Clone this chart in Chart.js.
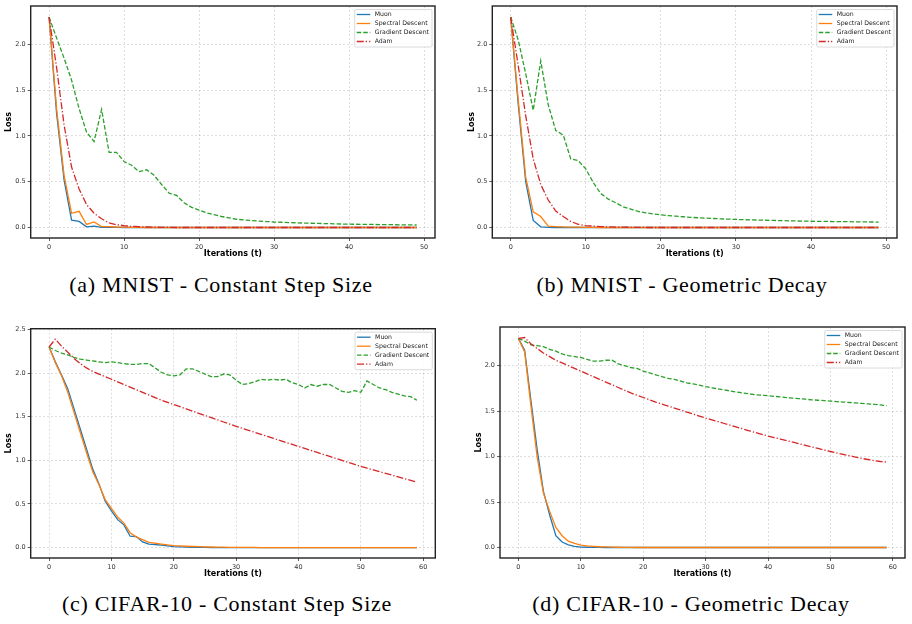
<!DOCTYPE html>
<html>
<head>
<meta charset="utf-8">
<script src="https://cdn.jsdelivr.net/npm/chart.js@4.4.0/dist/chart.umd.min.js"></script>
<style>
html, body { margin: 0; padding: 0; background: #fff; }
body { width: 912px; height: 624px; position: relative; overflow: hidden; }
canvas { position: absolute; }
.cap { position: absolute; font-family: "Liberation Serif", serif; font-size: 22px; line-height: 22px;
       letter-spacing: 0.7px; white-space: nowrap; transform: translateX(-50%); color: #000; }
</style>
</head>
<body>
<canvas id="chartA" width="445" height="265" style="left:0px;top:0px"></canvas>
<canvas id="chartB" width="449" height="265" style="left:463px;top:0px"></canvas>
<canvas id="chartC" width="445" height="267" style="left:0px;top:318px"></canvas>
<canvas id="chartD" width="442" height="267" style="left:470px;top:318px"></canvas>
<div class="cap" style="left:221px;top:274px">(a) MNIST - Constant Step Size</div>
<div class="cap" style="left:682px;top:274px">(b) MNIST - Geometric Decay</div>
<div class="cap" style="left:227px;top:593px">(c) CIFAR-10 - Constant Step Size</div>
<div class="cap" style="left:691px;top:593px">(d) CIFAR-10 - Geometric Decay</div>
<script>
// series names
const seriesNames = ["Muon", "Spectral Descent", "Gradient Descent", "Adam"];

// tick labels
const xTicksMnist = [0, 10, 20, 30, 40, 50];
const xTicksCifar = [0, 10, 20, 30, 40, 50, 60];
const yTicksMnist = [0, 0.5, 1.0, 1.5, 2.0];
const yTicksCifar = [0, 0.5, 1.0, 1.5, 2.0, 2.5];

// iterations
const itersMnist = Array.from({length: 50}, (_, i) => i);
const itersCifar = Array.from({length: 60}, (_, i) => i);

// (a) MNIST - constant step
const muonA = [2.30,1.25,0.52,0.08,0.066,0.007,0.015,0.002,0.001,0.001,
  0,0,0,0,0,0,0,0,0,0, 0,0,0,0,0,0,0,0,0,0, 0,0,0,0,0,0,0,0,0,0, 0,0,0,0,0,0,0,0,0,0];
const spectralA = [2.30,1.30,0.57,0.155,0.176,0.033,0.06,0.01,0.01,0.005,
  0.003,0.002,0.001,0,0,0,0,0,0,0, 0,0,0,0,0,0,0,0,0,0, 0,0,0,0,0,0,0,0,0,0, 0,0,0,0,0,0,0,0,0,0];
const gdA = [2.30,2.07,1.85,1.61,1.30,1.04,0.94,1.29,0.82,0.82,
  0.72,0.68,0.61,0.63,0.57,0.47,0.375,0.35,0.27,0.22,
  0.19,0.16,0.14,0.12,0.105,0.09,0.082,0.076,0.07,0.065,
  0.06,0.057,0.054,0.051,0.048,0.046,0.044,0.042,0.04,0.038,
  0.036,0.035,0.034,0.033,0.032,0.031,0.03,0.029,0.028,0.027];
const adamA = [2.30,1.75,1.12,0.66,0.42,0.25,0.155,0.095,0.05,0.03,
  0.02,0.012,0.008,0.005,0.003,0.002,0.001,0,0,0, 0,0,0,0,0,0,0,0,0,0, 0,0,0,0,0,0,0,0,0,0, 0,0,0,0,0,0,0,0,0,0];

// (b) MNIST - geometric decay
const muonB = [2.30,1.35,0.50,0.077,0.007,0.001,0,0,0,0,
  0,0,0,0,0,0,0,0,0,0, 0,0,0,0,0,0,0,0,0,0, 0,0,0,0,0,0,0,0,0,0, 0,0,0,0,0,0,0,0,0,0];
const spectralB = [2.30,1.40,0.55,0.17,0.12,0.015,0.01,0.006,0.004,0.003,
  0.002,0.001,0,0,0,0,0,0,0,0, 0,0,0,0,0,0,0,0,0,0, 0,0,0,0,0,0,0,0,0,0, 0,0,0,0,0,0,0,0,0,0];
const gdB = [2.30,2.05,1.68,1.28,1.82,1.34,1.06,1.01,0.75,0.73,
  0.64,0.49,0.37,0.31,0.27,0.225,0.2,0.175,0.16,0.148,
  0.138,0.13,0.123,0.117,0.111,0.106,0.102,0.098,0.094,0.091,
  0.088,0.085,0.083,0.081,0.079,0.077,0.075,0.073,0.071,0.07,
  0.068,0.067,0.066,0.065,0.064,0.063,0.062,0.061,0.06,0.059];
const adamB = [2.30,1.77,1.22,0.75,0.47,0.30,0.18,0.12,0.065,0.035,
  0.02,0.015,0.01,0.006,0.004,0.003,0.002,0.001,0,0, 0,0,0,0,0,0,0,0,0,0, 0,0,0,0,0,0,0,0,0,0, 0,0,0,0,0,0,0,0,0,0];

// (c) CIFAR-10 - constant step
const muonC = [2.30,2.13,1.98,1.82,1.59,1.36,1.13,0.90,0.73,0.53,
  0.42,0.32,0.26,0.13,0.126,0.065,0.04,0.035,0.027,0.02,
  0.01,0.007,0.005,0.003,0.002,0.001,0,0,0,0,
  0,0,0,0,0,0,0,0,0,0, 0,0,0,0,0,0,0,0,0,0, 0,0,0,0,0,0,0,0,0,0];
const spectralC = [2.30,2.12,1.97,1.78,1.55,1.32,1.09,0.87,0.72,0.55,
  0.45,0.35,0.28,0.17,0.12,0.09,0.06,0.05,0.04,0.03,
  0.022,0.018,0.015,0.012,0.01,0.008,0.006,0.005,0.004,0.003,
  0.003,0.002,0.002,0.001,0,0,0,0,0,0, 0,0,0,0,0,0,0,0,0,0, 0,0,0,0,0,0,0,0,0,0];
const gdC = [2.30,2.26,2.23,2.21,2.18,2.16,2.15,2.14,2.13,2.12,
  2.13,2.12,2.11,2.10,2.10,2.11,2.11,2.06,2.01,1.98,
  1.97,1.98,2.05,2.05,2.02,1.99,1.96,1.96,1.99,1.98,
  1.92,1.87,1.88,1.90,1.93,1.92,1.93,1.92,1.93,1.89,
  1.87,1.83,1.87,1.85,1.87,1.87,1.83,1.79,1.78,1.80,
  1.78,1.91,1.87,1.83,1.81,1.78,1.76,1.74,1.73,1.69];
const adamC = [2.30,2.39,2.31,2.24,2.17,2.11,2.06,2.02,1.99,1.96,
  1.93,1.90,1.87,1.84,1.81,1.78,1.75,1.72,1.69,1.665,
  1.64,1.615,1.59,1.565,1.54,1.515,1.49,1.465,1.44,1.415,
  1.39,1.367,1.344,1.321,1.298,1.275,1.252,1.229,1.206,1.183,
  1.16,1.137,1.114,1.091,1.068,1.045,1.022,0.999,0.976,0.953,
  0.93,0.91,0.89,0.87,0.85,0.83,0.81,0.79,0.77,0.75];

// (d) CIFAR-10 - geometric decay
const muonD = [2.30,2.17,1.62,1.08,0.62,0.36,0.13,0.06,0.03,0.012,
  0.005,0.003,0.002,0.001,0,0,0,0,0,0,
  0,0,0,0,0,0,0,0,0,0, 0,0,0,0,0,0,0,0,0,0, 0,0,0,0,0,0,0,0,0,0, 0,0,0,0,0,0,0,0,0,0];
const spectralD = [2.30,2.15,1.56,1.00,0.60,0.40,0.22,0.13,0.07,0.045,
  0.025,0.017,0.012,0.008,0.006,0.004,0.003,0.002,0.001,0,
  0,0,0,0,0,0,0,0,0,0, 0,0,0,0,0,0,0,0,0,0, 0,0,0,0,0,0,0,0,0,0, 0,0,0,0,0,0,0,0,0,0];
const gdD = [2.30,2.27,2.23,2.22,2.21,2.18,2.16,2.13,2.11,2.10,
  2.09,2.07,2.05,2.05,2.06,2.06,2.02,2.00,1.98,1.97,
  1.94,1.92,1.90,1.88,1.86,1.85,1.83,1.81,1.80,1.785,
  1.77,1.757,1.745,1.733,1.721,1.71,1.70,1.69,1.68,1.675,
  1.67,1.663,1.656,1.649,1.643,1.637,1.631,1.625,1.62,1.615,
  1.61,1.605,1.60,1.595,1.59,1.585,1.58,1.575,1.568,1.56];
const adamD = [2.30,2.31,2.24,2.19,2.14,2.10,2.06,2.03,2.00,1.97,
  1.94,1.91,1.88,1.85,1.82,1.79,1.76,1.73,1.70,1.675,
  1.65,1.625,1.60,1.578,1.556,1.534,1.512,1.49,1.468,1.446,
  1.424,1.404,1.384,1.364,1.344,1.324,1.304,1.284,1.264,1.245,
  1.226,1.209,1.192,1.175,1.158,1.141,1.124,1.107,1.09,1.073,
  1.056,1.04,1.025,1.01,0.995,0.98,0.968,0.956,0.946,0.94];

const lineStyles = [
  {color: "#1f77b4", dash: [], order: 3},
  {color: "#ff7f0e", dash: [], order: 2},
  {color: "#2ca02c", dash: [4.5, 2], order: 1},
  {color: "#d62728", dash: [7, 2, 1.3, 2], order: 0}
];

// frame + inside legend like matplotlib
const framePlugin = {
  id: "frameLegend",
  afterDraw(chart) {
    const {ctx, chartArea: a} = chart;
    ctx.save();
    ctx.setLineDash([]);
    ctx.strokeStyle = "#222";
    ctx.lineWidth = 1.4;
    ctx.strokeRect(a.left, a.top, a.right - a.left, a.bottom - a.top);

    ctx.font = '6.2px "DejaVu Sans"';
    const w = 20 + Math.max(...seriesNames.map(n => ctx.measureText(n).width)) + 3;
    const bx = a.right - 3 - w, by = a.top + 3.5, bh = 37.5;
    ctx.beginPath();
    ctx.roundRect(bx, by, w, bh, 1.5);
    ctx.fillStyle = "rgba(255,255,255,0.85)";
    ctx.fill();
    ctx.strokeStyle = "#d0d0d0";
    ctx.lineWidth = 0.8;
    ctx.stroke();

    seriesNames.forEach((n, i) => {
      const ds = chart.data.datasets[i];
      const y = by + 5 + 9 * i;
      ctx.strokeStyle = ds.borderColor;
      ctx.lineWidth = ds.borderWidth;
      ctx.setLineDash(ds.borderDash);
      ctx.beginPath();
      ctx.moveTo(bx + 2, y);
      ctx.lineTo(bx + 15.5, y);
      ctx.stroke();
      ctx.fillStyle = "#222";
      ctx.textBaseline = "middle";
      ctx.fillText(n, bx + 20, y);
    });
    ctx.restore();
  }
};

function makeChart(id, cx, cy, cw, ch, area, iters, series, xr, yr, xTicks, yTicks) {
  const datasets = series.map((d, i) => ({
    label: seriesNames[i],
    data: d,
    borderColor: lineStyles[i].color,
    borderDash: lineStyles[i].dash,
    borderWidth: 1.3,
    order: lineStyles[i].order,
    pointRadius: 0,
    tension: 0,
    fill: false
  }));
  const tickFont = {family: "DejaVu Sans", size: 6.5};
  const titleFont = {family: "DejaVu Sans", size: 8, weight: "bold"};
  const gridOpts = {color: "rgba(0,0,0,0.17)", lineWidth: 0.8, tickColor: "#333", tickLength: 3, tickBorderDash: [], tickWidth: 0.8};
  return new Chart(document.getElementById(id), {
    type: "line",
    data: {labels: iters, datasets},
    options: {
      responsive: false,
      devicePixelRatio: 1,
      animation: false,
      layout: {padding: {left: 0, top: area.top - cy, right: cx + cw - area.right, bottom: 0}},
      plugins: {legend: {display: false}, tooltip: {enabled: false}},
      scales: {
        x: {
          type: "linear", min: xr[0], max: xr[1],
          afterBuildTicks: s => { s.ticks = xTicks.map(v => ({value: v})); },
          afterFit: s => { s.height = cy + ch - area.bottom; },
          ticks: {font: tickFont, color: "#333", padding: 2, maxRotation: 0, autoSkip: false, callback: v => v},
          grid: gridOpts,
          border: {display: false, dash: [2, 2]},
          title: {display: true, text: "Iterations (t)", font: titleFont, color: "#000", padding: {top: 0, bottom: 6}}
        },
        y: {
          min: yr[0], max: yr[1],
          afterBuildTicks: s => { s.ticks = yTicks.map(v => ({value: v})); },
          afterFit: s => { s.width = area.left - cx; },
          ticks: {font: tickFont, color: "#333", padding: 2, callback: v => v.toFixed(1)},
          grid: gridOpts,
          border: {display: false, dash: [2, 2]},
          title: {display: true, text: "Loss", font: titleFont, color: "#000", padding: {top: 4, bottom: 0}}
        }
      }
    },
    plugins: [framePlugin]
  });
}

makeChart("chartA", 0, 0, 445, 265, {left: 30.7, top: 6, right: 435, bottom: 238},
  itersMnist, [muonA, spectralA, gdA, adamA], [-2.45, 51.45], [-0.115, 2.42], xTicksMnist, yTicksMnist);
makeChart("chartB", 463, 0, 449, 265, {left: 492.3, top: 6, right: 897, bottom: 238},
  itersMnist, [muonB, spectralB, gdB, adamB], [-2.45, 51.45], [-0.115, 2.42], xTicksMnist, yTicksMnist);
makeChart("chartC", 0, 318, 445, 267, {left: 30.7, top: 328.7, right: 435.3, bottom: 558},
  itersCifar, [muonC, spectralC, gdC, adamC], [-2.95, 61.95], [-0.12, 2.51], xTicksCifar, yTicksCifar);
makeChart("chartD", 470, 318, 442, 267, {left: 500, top: 327, right: 905, bottom: 558},
  itersCifar, [muonD, spectralD, gdD, adamD], [-2.95, 61.95], [-0.1155, 2.4255], xTicksCifar, yTicksMnist);
</script>
</body>
</html>
